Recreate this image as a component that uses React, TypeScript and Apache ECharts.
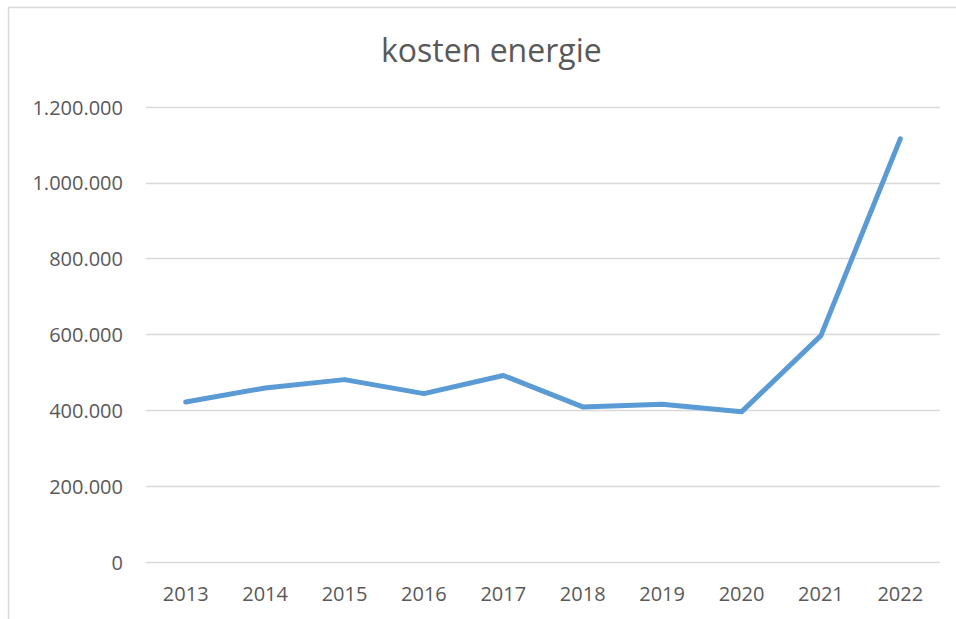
import React, { useEffect, useRef } from "react";
import * as echarts from "echarts";

const years = ["2013", "2014", "2015", "2016", "2017", "2018", "2019", "2020", "2021", "2022"];
const kosten = [422000, 459000, 481000, 444000, 492000, 409000, 416000, 396000, 597000, 1116000];

const fmt = (v: number) => String(v).replace(/\B(?=(\d{3})+(?!\d))/g, ".");

export default function App() {
  const ref = useRef<HTMLDivElement>(null);
  useEffect(() => {
    const chart = echarts.init(ref.current!, null, { renderer: "svg" });
    chart.setOption({
      animation: false,
      backgroundColor: "#ffffff",
      title: {
        text: "kosten energie",
        left: 376,
        top: 28,
        textStyle: { fontFamily: "Open Sans", fontSize: 32, fontWeight: "normal", color: "#595959" },
      },
      graphic: [
        {
          type: "rect",
          shape: { x: 8.5, y: 7.5, width: 1000, height: 700 },
          style: { fill: "none", stroke: "#d9d9d9", lineWidth: 1.5 },
          silent: true,
        },
      ],
      grid: { left: 146, right: 16, top: 107, bottom: 57 },
      xAxis: {
        type: "category",
        data: years,
        boundaryGap: true,
        axisLine: { show: false },
        axisTick: { show: false },
        axisLabel: { fontFamily: "Open Sans", fontSize: 20, color: "#595959", margin: 21 },
      },
      yAxis: {
        type: "value",
        min: 0,
        max: 1200000,
        interval: 200000,
        axisLine: { show: false },
        axisTick: { show: false },
        splitLine: { lineStyle: { color: "#d9d9d9", width: 1.3 } },
        axisLabel: { fontFamily: "Open Sans", fontSize: 20, color: "#595959", margin: 23, formatter: (v: number) => fmt(v) },
      },
      series: [
        {
          type: "line",
          data: kosten,
          symbol: "none",
          lineStyle: { color: "#5b9bd5", width: 5, cap: "round", join: "round" },
        },
      ],
    });
    return () => chart.dispose();
  }, []);
  return <div ref={ref} style={{ position: "absolute", left: 0, top: 0, width: 956, height: 619 }} />;
}
